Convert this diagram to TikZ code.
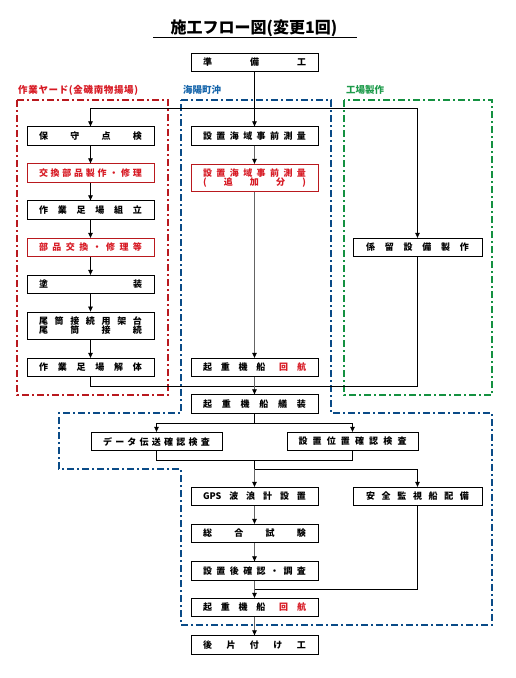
\documentclass[tikz,border=0pt]{standalone}
\usepackage{fontspec}
\newfontfamily\jp{Noto Sans CJK JP}
\usetikzlibrary{arrows.meta}
\definecolor{rtxt}{RGB}{215,25,35}
\definecolor{rline}{RGB}{185,25,30}
\definecolor{bline}{RGB}{10,75,135}
\definecolor{btxt}{RGB}{20,100,170}
\definecolor{gline}{RGB}{20,145,65}
\definecolor{gtxt}{RGB}{30,155,75}
\definecolor{glin}{RGB}{100,100,100}
\newcommand{\sprd}[2][103pt]{\makebox[#1][s]{#2}}
\tikzset{
  box/.style={draw, line width=0.8pt, minimum height=18.5pt, inner sep=0pt, font=\jp\bfseries\fontsize{9}{11}\selectfont, fill=white},
  lbox/.style={box, minimum width=127pt},
  rbox/.style={lbox, draw=rline, text=rtxt},
  arr/.style={line width=0.7pt, -{Triangle[length=5pt,width=4.5pt]}},
  garr/.style={arr, draw=glin, -{Triangle[length=5pt,width=4.5pt,fill=black,color=black]}},
  ln/.style={line width=0.7pt},
  zone/.style={line width=1.6pt, dash pattern=on 7pt off 3pt on 2pt off 3pt},
  zlabel/.style={anchor=west, inner sep=0pt, font=\jp\bfseries\fontsize{9.5}{11}\selectfont}
}
\begin{document}
\begin{tikzpicture}[x=1pt,y=-1pt]
\useasboundingbox (0,0) rectangle (516,678);
% title
\node[inner sep=0pt, font=\jp\bfseries\fontsize{16}{18}\selectfont] (title) at (254,28) {施工フロー図(変更1回)};
\draw[line width=1pt] (153,37.5) -- (357,37.5);
% zones
\draw[zone, draw=rline] (17,100) rectangle (168,395);
\draw[zone, draw=gline] (344,100) rectangle (492,395);
\draw[zone, draw=bline] (181,100) -- (331,100) -- (331,413) -- (492,413) -- (492,625) -- (181,625) -- (181,469) -- (59,469) -- (59,413) -- (181,413) -- cycle;
\node[zlabel, text=rtxt] (lr) at (18,90) {\sprd[120pt]{作\hfill 業\hfill ヤ\hfill ー\hfill ド\hfill (\hfill 金\hfill 磯\hfill 南\hfill 物\hfill 揚\hfill 場\hfill )}};
\node[zlabel, text=btxt] (lb) at (183,90) {海陽町沖};
\node[zlabel, text=gtxt] (lg) at (346,90) {工場製作};
% top
\node[lbox] (prep) at (254.5,62.5) {\sprd{準\hfill 備\hfill 工}};
% left column
\node[lbox] (b1) at (90.5,136) {\sprd{保\hfill 守\hfill 点\hfill 検}};
\node[rbox] (b2) at (90.5,173) {\sprd{交\hfill 換\hfill 部\hfill 品\hfill 製\hfill 作\hfill ・\hfill 修\hfill 理}};
\node[lbox] (b3) at (90.5,210) {\sprd{作\hfill 業\hfill 足\hfill 場\hfill 組\hfill 立}};
\node[rbox] (b4) at (90.5,247.5) {\sprd{部\hfill 品\hfill 交\hfill 換\hfill ・\hfill 修\hfill 理\hfill 等}};
\node[lbox] (b5) at (90.5,284.5) {\sprd{塗\hfill 装}};
\node[lbox, minimum height=27pt, align=center] (b6) at (90.5,325.5) {\sprd{尾\hfill 筒\hfill 接\hfill 続\hfill 用\hfill 架\hfill 台}\\[-2pt]\sprd{尾\hfill 筒\hfill 接\hfill 続}};
\node[lbox] (b7) at (90.5,367.5) {\sprd{作\hfill 業\hfill 足\hfill 場\hfill 解\hfill 体}};
% center column
\node[lbox] (c1) at (254.5,136) {\sprd{設\hfill 置\hfill 海\hfill 域\hfill 事\hfill 前\hfill 測\hfill 量}};
\node[rbox, minimum height=27.5pt, align=center] (c2) at (254.5,178) {\sprd{設\hfill 置\hfill 海\hfill 域\hfill 事\hfill 前\hfill 測\hfill 量}\\[-2pt]\sprd{(\hfill 追\hfill 加\hfill 分\hfill )}};
\node[lbox] (c3) at (254.5,367.5) {\sprd{起\hfill 重\hfill 機\hfill 船\hfill\hspace{5pt}\textcolor{rtxt}{回}\hfill \textcolor{rtxt}{航}}};
\node[lbox] (c4) at (254.5,404) {\sprd{起\hfill 重\hfill 機\hfill 船\hfill 艤\hfill 装}};
% right column
\node[lbox, minimum width=129pt] (r1) at (417.5,247.5) {\sprd{係\hfill 留\hfill 設\hfill 備\hfill 製\hfill 作}};
% inspections
\node[lbox, minimum width=131pt] (d1) at (156.5,441.5) {\sprd[107pt]{デ\hfill ー\hfill タ\hfill 伝\hfill 送\hfill 確\hfill 認\hfill 検\hfill 査}};
\node[lbox, minimum width=131pt] (d2) at (352.5,441.5) {\sprd[108pt]{設\hfill 置\hfill 位\hfill 置\hfill 確\hfill 認\hfill 検\hfill 査}};
% lower
\node[lbox] (g1) at (254.5,496.5) {\sprd{GPS\hfill 波\hfill 浪\hfill 計\hfill 設\hfill 置}};
\node[lbox, minimum width=129pt] (s1) at (417.5,496.5) {\sprd{安\hfill 全\hfill 監\hfill 視\hfill 船\hfill 配\hfill 備}};
\node[lbox] (g2) at (254.5,533.5) {\sprd{総\hfill 合\hfill 試\hfill 験}};
\node[lbox] (g3) at (254.5,571) {\sprd{設\hfill 置\hfill 後\hfill 確\hfill 認\hfill ・\hfill 調\hfill 査}};
\node[lbox] (g4) at (254.5,607.5) {\sprd{起\hfill 重\hfill 機\hfill 船\hfill\hspace{5pt}\textcolor{rtxt}{回}\hfill \textcolor{rtxt}{航}}};
\node[lbox] (g5) at (254.5,645) {\sprd{後\hfill 片\hfill 付\hfill け\hfill 工}};
% connectors top
\coordinate (j1) at (254.5,108);
\draw[arr] (prep.south) -- (c1.north);
\draw[arr] (j1) -| (b1.north);
\draw[arr] (j1) -| (r1.north);
% left chain
\draw[arr] (b1) -- (b2);
\draw[arr] (b2) -- (b3);
\draw[arr] (b3) -- (b4);
\draw[arr] (b4) -- (b5);
\draw[arr] (b5) -- (b6);
\draw[arr] (b6) -- (b7);
% center chain
\draw[garr] (c1) -- (c2);
\draw[garr] (c2) -- (c3);
\coordinate (j2) at (254.5,386);
\draw[ln] (b7.south) |- (j2);
\draw[ln] (r1.south) |- (j2);
\draw[garr] (c3) -- (c4);
% inspections
\coordinate (j3) at (254.5,423);
\draw[ln] (c4.south) -- (j3);
\draw[arr] (j3) -| (d1.north);
\draw[arr] (j3) -| (d2.north);
\coordinate (j4) at (254.5,460);
\draw[ln] (d1.south) |- (j4);
\draw[ln] (d2.south) |- (j4);
\coordinate (j5) at (254.5,469);
\draw[ln] (j4) -- (j5);
\draw[garr] (j5) -- (g1.north);
\draw[arr] (j5) -| (s1.north);
% lower chain
\draw[garr] (g1) -- (g2);
\draw[garr] (g2) -- (g3);
\draw[garr] (g3) -- (g4);
\draw[garr] (g4) -- (g5);
\coordinate (j6) at (254.5,589);
\draw[ln] (s1.south) |- (j6);
\end{tikzpicture}
\end{document}
